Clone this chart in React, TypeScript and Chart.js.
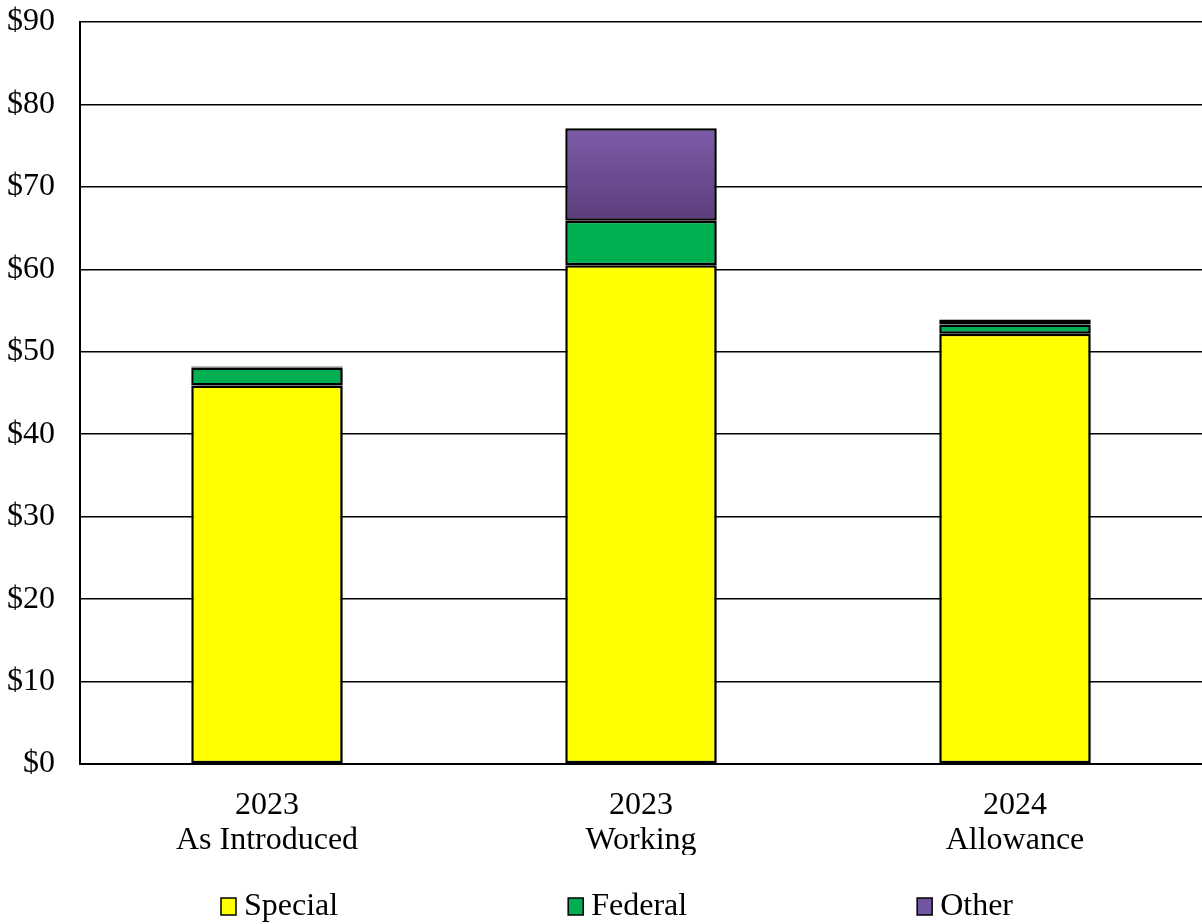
import React, { useEffect, useRef } from "react";
import { Chart, registerables } from "chart.js";

Chart.register(...registerables);

const categories: string[][] = [
  ["2023", "As Introduced"],
  ["2023", "Working"],
  ["2024", "Allowance"],
];
const seriesNames = ["Special", "Federal", "Other"];
const specialFunds = [45.9, 60.5, 52.2];
const federalFunds = [2.2, 5.4, 1.1];
const otherFunds = [0.1, 11.2, 0.6];
const yTicks = [0, 10, 20, 30, 40, 50, 60, 70, 80, 90];

const FONT = "'Liberation Serif', 'Times New Roman', serif";
const FONT_SIZE = 32;
const LEGEND_COLORS = ["#FFFF00", "#00B050", "#7255A0"];

// soft drop shadow behind the stacked bars
const barShadow = {
  id: "barShadow",
  beforeDatasetDraw(chart: any) {
    const ctx = chart.ctx;
    ctx.save();
    ctx.shadowColor = "rgba(0,0,0,0.28)";
    ctx.shadowBlur = 6;
    ctx.shadowOffsetX = 3;
    ctx.shadowOffsetY = 2;
  },
  afterDatasetDraw(chart: any) {
    chart.ctx.restore();
  },
};

// widely spaced legend row along the bottom edge
const bottomLegend = {
  id: "bottomLegend",
  afterDraw(chart: any) {
    const ctx = chart.ctx;
    ctx.save();
    ctx.font = `${FONT_SIZE}px ${FONT}`;
    ctx.textBaseline = "middle";
    const box = 15;
    const gapText = 8;
    const gapItems = 230;
    const widths = seriesNames.map((n) => box + gapText + ctx.measureText(n).width);
    const total = widths.reduce((a, b) => a + b, 0) + gapItems * (seriesNames.length - 1);
    const centerX = chart.width / 2 + 16;
    let x = centerX - total / 2;
    const y = chart.height - 18;
    seriesNames.forEach((name, i) => {
      ctx.fillStyle = LEGEND_COLORS[i];
      ctx.fillRect(x, y - 8, box, 17);
      ctx.strokeStyle = "#000";
      ctx.lineWidth = 1.5;
      ctx.strokeRect(x, y - 8, box, 17);
      ctx.fillStyle = "#000";
      ctx.fillText(name, x + box + gapText, y + 1);
      x += widths[i] + gapItems;
    });
    ctx.restore();
  },
};

export default function App() {
  const ref = useRef<HTMLCanvasElement>(null);

  useEffect(() => {
    document.body.style.margin = "0";
    const canvas = ref.current!;
    const ctx = canvas.getContext("2d")!;

    // vertical gradient spanning each purple segment
    const purpleFill = (context: any) => {
      const yScale = context.chart.scales && context.chart.scales.y;
      const i = context.dataIndex;
      if (!yScale || i == null) return "#6F4F99";
      const base = specialFunds[i] + federalFunds[i];
      const y0 = yScale.getPixelForValue(base + otherFunds[i]);
      const y1 = yScale.getPixelForValue(base);
      if (!(y1 - y0 > 1)) return "#6F4F99";
      const g = ctx.createLinearGradient(0, y0, 0, y1);
      g.addColorStop(0, "#7C5CA8");
      g.addColorStop(1, "#5C3E7C");
      return g;
    };

    const chart = new Chart(ctx, {
      type: "bar",
      data: {
        labels: categories,
        datasets: [
          {
            label: seriesNames[0],
            data: specialFunds,
            backgroundColor: "#FFFF00",
            borderColor: "#000000",
            borderWidth: 2.5,
            borderSkipped: false,
          },
          {
            label: seriesNames[1],
            data: federalFunds,
            backgroundColor: "#00B050",
            borderColor: "#000000",
            borderWidth: 2.5,
            borderSkipped: false,
          },
          {
            label: seriesNames[2],
            data: otherFunds,
            backgroundColor: purpleFill as any,
            borderColor: "#000000",
            borderWidth: 2.5,
            borderSkipped: false,
          },
        ],
      },
      options: {
        animation: false,
        responsive: false,
        devicePixelRatio: 1,
        layout: { padding: { top: 22, right: 0, left: 3, bottom: 69 } },
        datasets: {
          bar: { categoryPercentage: 1, barPercentage: 0.405 },
        },
        plugins: {
          tooltip: { enabled: false },
          legend: { display: false },
        },
        scales: {
          x: {
            stacked: true,
            grid: { display: false, drawTicks: false },
            border: { color: "#000", width: 2 },
            afterFit: (axis: any) => {
              axis.height = 91;
              axis.paddingLeft = 0;
              axis.paddingRight = 0;
            },
            ticks: {
              color: "#000",
              font: { family: FONT, size: FONT_SIZE, lineHeight: 1.1 },
              padding: 24,
            },
          },
          y: {
            stacked: true,
            min: 0,
            max: 90,
            afterBuildTicks: (axis: any) => {
              axis.ticks = yTicks.map((v) => ({ value: v }));
            },
            afterFit: (axis: any) => {
              axis.width = 77;
              axis.paddingTop = 0;
              axis.paddingBottom = 0;
            },
            grid: { color: "#000", lineWidth: 1.5, drawTicks: false },
            border: { color: "#000", width: 2 },
            ticks: {
              color: "#000",
              autoSkip: false,
              font: { family: FONT, size: FONT_SIZE },
              padding: 25,
              callback: (v: any) => "$" + v,
            },
          },
        },
      },
      plugins: [barShadow, bottomLegend],
    });
    return () => chart.destroy();
  }, []);

  return <canvas ref={ref} width={1202} height={924} style={{ display: "block" }} />;
}
